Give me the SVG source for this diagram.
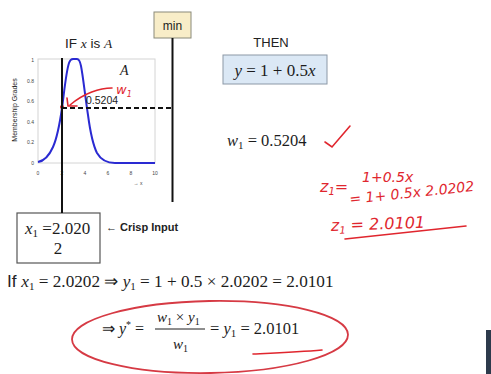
<svg xmlns="http://www.w3.org/2000/svg" width="491" height="374" viewBox="0 0 491 374">
<style>
.m{font-family:"Liberation Serif",serif;fill:#1c1c1c}
.i{font-style:italic}
.s{font-family:"Liberation Sans",Arial,sans-serif;fill:#222}
.tk{font-family:"Liberation Sans",Arial,sans-serif;font-size:5px;fill:#444}
.r{font-family:"DejaVu Sans","Liberation Sans",sans-serif;font-style:oblique;fill:#e0262e}
.rl{fill:none;stroke:#e0262e;stroke-width:1.6;stroke-linecap:round}
.k{stroke:#111;stroke-width:2;fill:none}
</style>
<rect width="491" height="374" fill="#fff"/>
<g id="plot">
<rect x="38" y="59" width="117" height="104" fill="#fff" stroke="#d4d4d4" stroke-width="1"/>
<text class="tk" x="34" y="62" text-anchor="end">1</text>
<text class="tk" x="34" y="83" text-anchor="end">0.8</text>
<text class="tk" x="34" y="103" text-anchor="end">0.6</text>
<text class="tk" x="34" y="124" text-anchor="end">0.4</text>
<text class="tk" x="34" y="144" text-anchor="end">0.2</text>
<text class="tk" x="34" y="165" text-anchor="end">0</text>
<text class="tk" x="38" y="175" text-anchor="middle">0</text>
<text class="tk" x="62" y="175" text-anchor="middle">2</text>
<text class="tk" x="85" y="175" text-anchor="middle">4</text>
<text class="tk" x="108" y="175" text-anchor="middle">6</text>
<text class="tk" x="131" y="175" text-anchor="middle">8</text>
<text class="tk" x="155" y="175" text-anchor="middle">10</text>
<text class="tk" x="138" y="185" text-anchor="middle">→ x</text>
<text class="s" x="17" y="110" font-size="7" fill="#555" text-anchor="middle" transform="rotate(-90 17 110)">Membership Grades</text>
<path d="M38,162 C44,161 49,156 53,147 C57,138 60,122 62,108 C64,94 66,72 69,63 C70,60 71,59 73,59 L77,59 C79,59 80,61 81,66 C83,76 85,95 88,115 C90,130 93,145 97,153 C101,160 106,163 115,163 L155,163" fill="none" stroke="#2a2ad2" stroke-width="2"/>
<text class="m i" x="120" y="75" font-size="14">A</text>
<text class="s" x="86" y="104" font-size="10.5">0.5204</text>
<text class="s" x="65" y="48" font-size="13.5">IF <tspan class="m i">x</tspan> is <tspan class="m i">A</tspan></text>
</g>
<g id="w1-note">
<text class="r" x="116" y="94" font-size="13">w<tspan font-size="8" dy="3">1</tspan></text>
<path class="rl" d="M112,88 C100,88 84,93 70,105"/>
<path class="rl" d="M67,98 L68,106 L77,106"/>
<circle cx="62" cy="107" r="2" fill="#e0262e"/>
</g>
<g id="min">
<rect x="154" y="12" width="37" height="26" fill="#f8edc8" stroke="#8a8a7a" stroke-width="1"/>
<text class="s" x="172.5" y="30" font-size="12" text-anchor="middle" fill="#333">min</text>
</g>
<g id="then">
<text class="s" x="271" y="47" font-size="13" text-anchor="middle">THEN</text>
<rect x="223" y="55" width="104" height="29" fill="#dbe8f5" stroke="#8b98a6" stroke-width="1"/>
<text class="m" x="275" y="76" font-size="17" text-anchor="middle"><tspan class="i">y</tspan> = 1 + 0.5<tspan class="i">x</tspan></text>
</g>
<g id="w1">
<text class="m" x="227" y="146" font-size="16.5"><tspan class="i">w</tspan><tspan font-size="11" dy="3">1</tspan><tspan dy="-3"> = 0.5204</tspan></text>
<path class="rl" d="M325,142 L332,147 L350,126"/>
</g>
<g id="handwritten">
<text class="r" x="320" y="192" font-size="16">z<tspan font-size="10" dy="3">1</tspan><tspan dy="-3">=</tspan></text>
<text class="r" x="362" y="182" font-size="14">1+0.5x</text>
<text class="r" x="350" y="204" font-size="14" transform="rotate(-6 350 204)">= 1+ 0.5x 2.0202</text>
<text class="r" x="331" y="231" font-size="16" transform="rotate(-2 331 231)">z<tspan font-size="10" dy="3">1</tspan><tspan dy="-3"> = 2.0101</tspan></text>
<path class="rl" d="M345,239 L466,226"/>
</g>
<g id="crisp">
<rect x="17" y="213" width="83" height="50" fill="#fff" stroke="#555" stroke-width="1.2"/>
<text class="m" x="25" y="234" font-size="17"><tspan class="i">x</tspan><tspan font-size="11" dy="3">1</tspan><tspan dy="-3"> =2.020</tspan></text>
<text class="m" x="58" y="254" font-size="17" text-anchor="middle">2</text>
<text class="s" x="106" y="231" font-size="11" font-weight="bold">← Crisp Input</text>
</g>
<g id="equation">
<text x="7" y="287" font-size="17.2" class="m"><tspan class="s">If </tspan><tspan class="i">x</tspan><tspan font-size="11" dy="3">1</tspan><tspan dy="-3"> = 2.0202 ⇒ </tspan><tspan class="i">y</tspan><tspan font-size="11" dy="3">1</tspan><tspan dy="-3"> = 1 + 0.5 × 2.0202 = 2.0101</tspan></text>
</g>
<g id="result">
<text class="m" x="102" y="334" font-size="16">⇒ <tspan class="i">y</tspan><tspan font-size="10" dy="-6">*</tspan><tspan dy="6"> =</tspan></text>
<text class="m" x="157" y="322" font-size="15"><tspan class="i">w</tspan><tspan font-size="10" dy="3">1</tspan><tspan dy="-3"> × </tspan><tspan class="i">y</tspan><tspan font-size="10" dy="3">1</tspan></text>
<line x1="155" y1="329" x2="205" y2="329" stroke="#1c1c1c" stroke-width="1"/>
<text class="m" x="173" y="349" font-size="15"><tspan class="i">w</tspan><tspan font-size="10" dy="3">1</tspan></text>
<text class="m" x="210" y="334" font-size="16.5">= <tspan class="i">y</tspan><tspan font-size="11" dy="3">1</tspan><tspan dy="-3"> = 2.0101</tspan></text>
<path class="rl" d="M253,354 C275,353 300,352 322,350"/>
<ellipse cx="210" cy="337" rx="138" ry="36" fill="none" stroke="#d63a44" stroke-width="1.8" transform="rotate(-1 210 337)"/>
</g>
<g id="connectors">
<line class="k" x1="62" y1="58" x2="62" y2="213"/>
<line class="k" x1="172.5" y1="38" x2="172.5" y2="202"/>
<line class="k" x1="62" y1="108" x2="172.5" y2="108" stroke-dasharray="5,3"/>
</g>
<rect x="486" y="330" width="5" height="44" fill="#2d3a4c"/>
</svg>
